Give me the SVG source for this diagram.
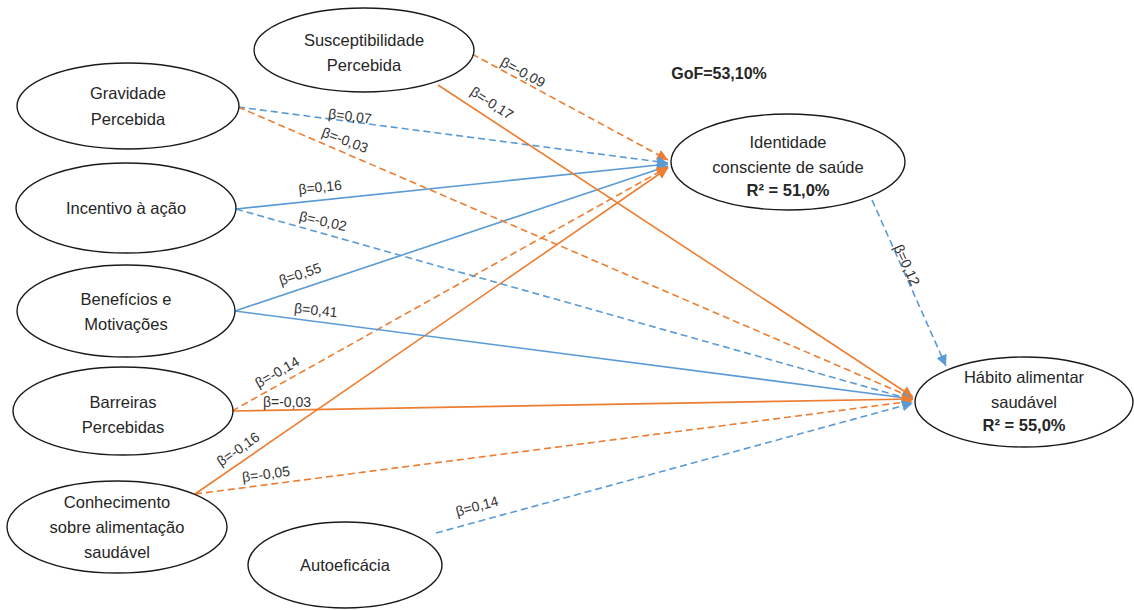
<svg xmlns="http://www.w3.org/2000/svg" width="1134" height="610" viewBox="0 0 1134 610">
<style>
.node ellipse{fill:#fff;stroke:#1a1a1a;stroke-width:1.4}
.nt{font-family:"Liberation Sans",Arial,sans-serif;font-size:16.5px;fill:#262626;text-anchor:middle}
.b{font-weight:bold}
.o{stroke:#ED7D31;stroke-width:1.6;fill:none}
.bl{stroke:#5B9BD5;stroke-width:1.6;fill:none}
.d{stroke-dasharray:7 4}
.lbl{font-family:"Liberation Sans",Arial,sans-serif;font-size:14px;fill:#333;text-anchor:middle;dominant-baseline:central}
</style>
<defs>
<marker id="ao" viewBox="0 0 10 10" refX="10" refY="5" markerWidth="11" markerHeight="11" markerUnits="userSpaceOnUse" orient="auto"><path d="M0,0 L10,5 L0,10 z" fill="#ED7D31"/></marker>
<marker id="ab" viewBox="0 0 10 10" refX="10" refY="5" markerWidth="11" markerHeight="11" markerUnits="userSpaceOnUse" orient="auto"><path d="M0,0 L10,5 L0,10 z" fill="#5B9BD5"/></marker>
</defs>
<rect width="1134" height="610" fill="#fff"/>
<g id="connectors">
<line class="o d" x1="472" y1="54" x2="668" y2="160" marker-end="url(#ao)"/>
<line class="bl d" x1="238" y1="107" x2="668" y2="163" marker-end="url(#ab)"/>
<line class="bl" x1="236" y1="209" x2="668" y2="164" marker-end="url(#ab)"/>
<line class="bl" x1="235" y1="311" x2="668" y2="166" marker-end="url(#ab)"/>
<line class="o d" x1="232" y1="411" x2="668" y2="167" marker-end="url(#ao)"/>
<line class="o" x1="195" y1="494" x2="668" y2="168" marker-end="url(#ao)"/>
<line class="o" x1="438" y1="85" x2="913" y2="397" marker-end="url(#ao)"/>
<line class="o d" x1="238" y1="107" x2="913" y2="398" marker-end="url(#ao)"/>
<line class="bl d" x1="236" y1="209" x2="913" y2="400" marker-end="url(#ab)"/>
<line class="bl" x1="235" y1="311" x2="913" y2="399" marker-end="url(#ab)"/>
<line class="o" x1="232" y1="411" x2="913" y2="399" marker-end="url(#ao)"/>
<line class="o d" x1="195" y1="494" x2="913" y2="401" marker-end="url(#ao)"/>
<line class="bl d" x1="436" y1="533" x2="913" y2="403" marker-end="url(#ab)"/>
<line class="bl d" x1="872" y1="200" x2="946" y2="366" marker-end="url(#ab)"/>
<text class="lbl" transform="translate(523,72) rotate(28.4)">β=-0,09</text>
<text class="lbl" transform="translate(492,103) rotate(33.3)">β=-0,17</text>
<text class="lbl" transform="translate(350,116) rotate(7.4)">β=0,07</text>
<text class="lbl" transform="translate(345,140) rotate(21)">β=-0,03</text>
<text class="lbl" transform="translate(320,187) rotate(-5.9)">β=0,16</text>
<text class="lbl" transform="translate(323,221) rotate(13)">β=-0,02</text>
<text class="lbl" transform="translate(300,274) rotate(-18.4)">β=0,55</text>
<text class="lbl" transform="translate(316,310) rotate(6)">β=0,41</text>
<text class="lbl" transform="translate(277,372) rotate(-29.4)">β=-0,14</text>
<text class="lbl" transform="translate(287,402)">β=-0,03</text>
<text class="lbl" transform="translate(238,449) rotate(-34.6)">β=-0,16</text>
<text class="lbl" transform="translate(266,474) rotate(-7.4)">β=-0,05</text>
<text class="lbl" transform="translate(477,506) rotate(-15.2)">β=0,14</text>
<text class="lbl" transform="translate(907,265) rotate(65.9)">β=0,12</text>
</g>
<g id="n-susc" class="node"><ellipse cx="364" cy="50" rx="110" ry="42"/><text class="nt" x="364" y="46">Susceptibilidade</text><text class="nt" x="364" y="71">Percebida</text></g>
<g id="n-grav" class="node"><ellipse cx="128" cy="106" rx="111" ry="43"/><text class="nt" x="128" y="99">Gravidade</text><text class="nt" x="128" y="125">Percebida</text></g>
<g id="n-inc" class="node"><ellipse cx="126" cy="208" rx="110" ry="45"/><text class="nt" x="126" y="214">Incentivo à ação</text></g>
<g id="n-ben" class="node"><ellipse cx="126" cy="311" rx="109" ry="46"/><text class="nt" x="126" y="305">Benefícios e</text><text class="nt" x="126" y="330">Motivações</text></g>
<g id="n-bar" class="node"><ellipse cx="123" cy="411" rx="110" ry="44"/><text class="nt" x="123" y="408">Barreiras</text><text class="nt" x="123" y="433">Percebidas</text></g>
<g id="n-con" class="node"><ellipse cx="117" cy="527" rx="110" ry="46"/><text class="nt" x="117" y="508">Conhecimento</text><text class="nt" x="117" y="533">sobre alimentação</text><text class="nt" x="117" y="558">saudável</text></g>
<g id="n-auto" class="node"><ellipse cx="345" cy="565" rx="97" ry="43"/><text class="nt" x="345" y="571">Autoeficácia</text></g>
<g id="n-ident" class="node"><ellipse cx="788" cy="162" rx="117" ry="48"/><text class="nt" x="788" y="148">Identidade</text><text class="nt" x="788" y="173">consciente de saúde</text><text class="nt b" x="788" y="196">R² = 51,0%</text></g>
<g id="n-hab" class="node"><ellipse cx="1024" cy="402" rx="109" ry="45"/><text class="nt" x="1024" y="383">Hábito alimentar</text><text class="nt" x="1024" y="408">saudável</text><text class="nt b" x="1024" y="431">R² = 55,0%</text></g>
<text class="nt b" x="719" y="79" style="font-size:16px">GoF=53,10%</text>
</svg>
